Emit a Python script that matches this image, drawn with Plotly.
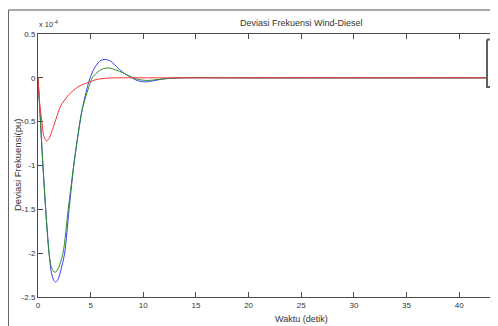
import plotly.graph_objects as go

# ---- data (frequency deviation, in units of 1e-4 pu) ----
t_blue = [0, 0.2, 0.41, 0.73, 1.05, 1.27, 1.5, 1.68, 1.9, 2.16, 2.53, 2.95, 3.47, 4.2, 4.75, 4.95,
          5.35, 5.7, 6.0, 6.35, 6.9, 7.6, 8.2, 8.87, 9.4, 10.1, 10.9, 11.6, 12.5, 13.5, 20, 30, 40, 50]
y_blue = [0, -0.42, -0.88, -1.5, -2.0, -2.22, -2.31, -2.33, -2.30, -2.20, -2.0, -1.5, -0.93, -0.36, -0.077, 0,
          0.11, 0.17, 0.2, 0.21, 0.19, 0.11, 0.05, 0.005, -0.03, -0.046, -0.035, -0.018, -0.006, 0, 0, 0, 0, 0]

t_green = [0, 0.2, 0.41, 0.73, 1.05, 1.3, 1.62, 1.9, 2.37, 2.87, 3.47, 4.2, 4.91, 5.15,
           5.6, 6.1, 6.7, 7.4, 8.07, 8.87, 9.6, 10.4, 11.3, 12.3, 13.3, 20, 30, 40, 50]
y_green = [0, -0.42, -0.88, -1.5, -2.0, -2.17, -2.22, -2.18, -2.0, -1.5, -0.93, -0.36, -0.077, 0,
           0.06, 0.1, 0.113, 0.09, 0.057, 0.01, -0.02, -0.03, -0.02, -0.008, 0, 0, 0, 0, 0]

t_red = [0, 0.16, 0.35, 0.57, 0.83, 1.1, 1.37, 1.68, 2.16, 2.95, 3.9, 4.85, 5.5, 6.5, 7.5, 10, 20, 30, 40, 50]
y_red = [0, -0.29, -0.48, -0.67, -0.72, -0.68, -0.59, -0.48, -0.32, -0.19, -0.095, -0.05, -0.02, -0.005, 0,
         0, 0, 0, 0, 0]

series_names = ["Tanpa Kontroler", "Kontroler PI", "Kontroler Fuzzy"]
series_colors = ["#3b3bff", "#2a8f2a", "#ff3333"]

x_ticks = [0, 5, 10, 15, 20, 25, 30, 35, 40, 45, 50]
y_ticks = [0.5, 0, -0.5, -1, -1.5, -2, -2.5]
y_tick_text = ["0.5", "0", "-0.5", "-1", "-1.5", "-2", "-2.5"]

title_text = "Deviasi Frekuensi Wind-Diesel"
x_label = "Waktu (detik)"
y_label = "Deviasi Frekuensi(pu)"
exponent_text = "x 10<sup>-4</sup>"

# ---- figure: page body adds an 8px offset; margins are 0 and axes use domains ----
OFF = 8
PAGE_W, PAGE_H = 498, 326
W, H = PAGE_W - OFF, PAGE_H - OFF
PLOT_L, PLOT_R, PLOT_T, PLOT_B = 38, 498, 34, 297  # page pixels of the axes box


def px_x(px):
    return (px - OFF) / W


def px_y(py):
    return (H - (py - OFF)) / H


fig = go.Figure()
for tt, yy, name, col in zip([t_blue, t_green, t_red], [y_blue, y_green, y_red], series_names, series_colors):
    fig.add_trace(go.Scatter(x=tt, y=yy, mode="lines", name=name,
                             line=dict(color=col, width=1, shape="spline", smoothing=0.8),
                             showlegend=False))

FONT = "Liberation Sans, Arial, sans-serif"
AX = "#4a4a4a"

fig.update_layout(
    width=W, height=H,
    margin=dict(l=0, r=0, t=0, b=0, pad=0, autoexpand=False),
    paper_bgcolor="white", plot_bgcolor="rgba(0,0,0,0)",
    font=dict(family=FONT, size=8, color="#333333"),
    xaxis=dict(domain=[px_x(PLOT_L), px_x(PLOT_R)], range=[0, (PLOT_R - PLOT_L) / 10.53],
               tickvals=x_ticks, ticks="inside", ticklen=5, tickcolor=AX,
               showline=True, linecolor=AX, linewidth=1, mirror="ticks", showgrid=False,
               zeroline=False, tickfont=dict(size=8, color="#333333")),
    yaxis=dict(domain=[px_y(PLOT_B), px_y(PLOT_T)], range=[-2.5, 0.5], tickvals=y_ticks,
               ticktext=y_tick_text, ticks="inside",
               ticklen=5, tickcolor=AX, showline=True, linecolor=AX, linewidth=1, mirror=False,
               showgrid=False, zeroline=False, tickfont=dict(size=8, color="#333333")),
    # full-figure overlay in page pixels, used only for window frame and legend box decoration
    xaxis2=dict(domain=[0, 1], range=[OFF, PAGE_W], anchor="y2", visible=False, fixedrange=True),
    yaxis2=dict(domain=[0, 1], range=[PAGE_H, OFF], anchor="x2", visible=False, fixedrange=True),
)

# decorations: figure-window frame (top, left) and the legend box with its line samples
deco = [
    dict(x=[8.5, 600], y=[10, 10], line=dict(color="#a8a8a8", width=2)),
    dict(x=[8.5, 8.5], y=[10, 400], line=dict(color="#666666", width=1)),
    dict(x=[487, 530, 530, 487, 487], y=[39.5, 39.5, 87, 87, 39.5], fill="toself", fillcolor="white",
         line=dict(color="#606060", width=2)),
]
for i, col in enumerate(series_colors):
    yy = [48.3, 63.3, 77.7][i]
    deco.append(dict(x=[490, 530], y=[yy, yy], line=dict(color=col, width=1.2)))
for d in deco:
    fig.add_trace(go.Scatter(mode="lines", xaxis="x2", yaxis="y2", showlegend=False, hoverinfo="skip",
                             cliponaxis=False, **d))

annotations = [
    dict(text=title_text, x=25, xref="x", y=px_y(23), yref="paper", showarrow=False,
         font=dict(size=9, color="#333333"), xanchor="center", yanchor="middle"),
    dict(text=x_label, x=25, xref="x", y=px_y(319), yref="paper", showarrow=False,
         font=dict(size=9, color="#333333"), xanchor="center", yanchor="middle"),
    dict(text=y_label, x=px_x(17), xref="paper", y=px_y(165), yref="paper", showarrow=False,
         textangle=-90, font=dict(size=9.5, color="#333333"), xanchor="center", yanchor="middle"),
    dict(text=exponent_text, x=px_x(37), xref="paper", y=px_y(31), yref="paper", showarrow=False,
         font=dict(size=7.5, color="#333333"), xanchor="left", yanchor="bottom"),
]
fig.update_layout(annotations=annotations)

fig.write_html("out.html")
